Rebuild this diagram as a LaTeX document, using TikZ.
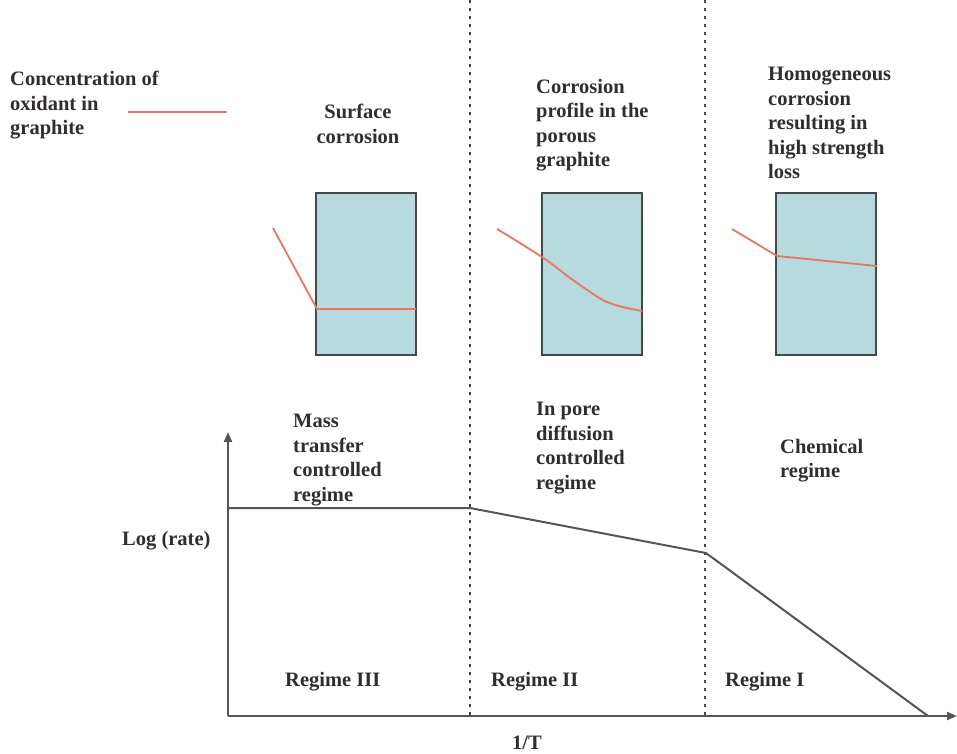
\documentclass[tikz,border=0pt]{standalone}
\usepackage{fontspec}
\setmainfont{Liberation Serif}
\usetikzlibrary{arrows.meta}
\definecolor{txt}{RGB}{50,45,45}
\definecolor{boxfill}{RGB}{183,218,222}
\definecolor{boxline}{RGB}{70,72,74}
\definecolor{ox}{RGB}{232,118,92}
\definecolor{ax}{RGB}{85,85,85}
\tikzset{
  lbl/.style={anchor=north west, inner sep=0pt, align=left, text=txt,
    font=\fontsize{20.5}{24.5}\selectfont\bfseries},
  gbox/.style={draw=boxline, line width=1.8pt, fill=boxfill, minimum width=100pt,
    minimum height=162pt, inner sep=0pt},
  oxline/.style={draw=ox, line width=1.8pt},
  regline/.style={draw=ax!80!black, line width=1.4pt, dash pattern=on 3pt off 5pt},
  axis/.style={draw=ax, line width=2pt, -{Triangle[length=10pt,width=8pt]}},
  rate/.style={draw=ax, line width=2pt, line join=round},
}
\begin{document}
\begin{tikzpicture}[x=1pt,y=-1pt]
\useasboundingbox (0,0) rectangle (957,753);
% regime separators
\coordinate (d1t) at (470,0); \coordinate (d1b) at (470,716);
\coordinate (d2t) at (705,0); \coordinate (d2b) at (705,716);
\draw[regline] (d1t) -- (d1b);
\draw[regline] (d2t) -- (d2b);
% legend
\node[lbl] (legend) at (10,71) {Concentration of\\oxidant in\\graphite};
\coordinate (lg1) at (128,112); \coordinate (lg2) at (227,112);
\draw[oxline] (lg1) -- (lg2);
% top labels
\node[lbl, anchor=north, align=center] (surf) at (358,104) {Surface\\corrosion};
\node[lbl] (prof) at (536,79) {Corrosion\\profile in the\\porous\\graphite};
\node[lbl] (homo) at (768,67) {Homogeneous\\corrosion\\resulting in\\high strength\\loss};
% boxes
\node[gbox] (box1) at (366,274) {};
\node[gbox] (box2) at (592,274) {};
\node[gbox] (box3) at (826,274) {};
% concentration profiles
\coordinate (a0) at (273,228); \coordinate (a1) at (317,309); \coordinate (a2) at (416,309);
\draw[oxline] (a0) -- (a1) -- (a2);
\draw[oxline] plot[smooth, tension=0.55] coordinates {(497,229) (542,257) (573,280) (607,302) (642,311)};
\coordinate (c0) at (732,229); \coordinate (c1) at (777,256); \coordinate (c2) at (877,266);
\draw[oxline] (c0) -- (c1) -- (c2);
% regime labels
\node[lbl] (mass) at (293,414) {Mass\\transfer\\controlled\\regime};
\node[lbl] (pore) at (536,402) {In pore\\diffusion\\controlled\\regime};
\node[lbl] (chem) at (780,439) {Chemical\\regime};
\node[lbl] (logr) at (122,531) {Log (rate)};
\node[lbl] (r3) at (285,672) {Regime III};
\node[lbl] (r2) at (491,672) {Regime II};
\node[lbl] (r1) at (725,672) {Regime I};
\node[lbl] (invT) at (512,736) {1/T};
% axes
\coordinate (o) at (228,716);
\coordinate (ytop) at (228,432);
\coordinate (xend) at (957,716);
\draw[axis] (o) -- (ytop);
\draw[axis] (o) -- (xend);
% rate curve
\coordinate (p0) at (228,508); \coordinate (p1) at (470,508);
\coordinate (p2) at (706,553); \coordinate (p3) at (928,716);
\draw[rate] (p0) -- (p1) -- (p2) -- (p3);
\end{tikzpicture}
\end{document}
